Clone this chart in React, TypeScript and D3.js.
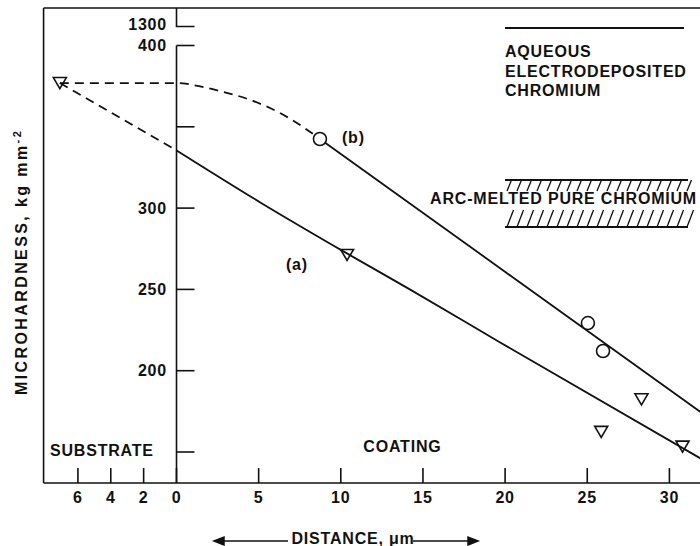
import React from 'react';
import * as d3 from 'd3';

const W = 700;
const H = 546;
const FONT = "'Liberation Sans', Arial, Helvetica, sans-serif";

// axis ticks
const xCoatTicks = [0, 5, 10, 15, 20, 25, 30];
const xSubTicks = [-2, -4, -6];
const yTicks = [150, 200, 250, 300, 350, 400];
const yTickLabels = ['', '200', '250', '300', '', '400'];
const yBreakLabel = '1300';

// curve (a): solid part in the coating
const curveAX = [0, 5.1, 10.4, 14.2, 19.7, 31.9];
const curveAY = [335.5, 303.5, 272, 250, 217.4, 146];
// curve (a): dashed part into the substrate
const dashAX = [-7.1, 0];
const dashAY = [376.9, 335.5];
// curve (b): dashed part
const dashBX = [-7.1, 0, 0.4, 1.0, 2.65, 4.66, 6.3, 7.7, 8.73];
const dashBY = [376.9, 376.9, 376.7, 375.7, 372.0, 365.9, 358.5, 349.9, 342.5];
// curve (b): solid part
const curveBX = [8.73, 31.9];
const curveBY = [342.5, 174.6];
// measured points
const triX = [-7.1, 10.38, 25.85, 28.3, 30.8];
const triY = [376.9, 271.2, 162.4, 182.4, 153.3];
const circX = [8.73, 25.04, 25.96];
const circY = [342.5, 229.3, 212.1];

const legendLines = ['AQUEOUS', 'ELECTRODEPOSITED', 'CHROMIUM'];
const legendHatch = 'ARC-MELTED PURE CHROMIUM';

const xMin = -8.09;
const xMax = 31.86;
const yMin = 130.9;

export default function App() {
  const x = d3.scaleLinear().domain([0, 30]).range([176.5, 669.4]);
  const y = d3.scaleLinear().domain([150, 400]).range([452, 45.5]);
  const line = d3
    .line<[number, number]>()
    .x((d) => x(d[0]))
    .y((d) => y(d[1]))
    .curve(d3.curveMonotoneX);
  const zip = (a: number[], b: number[]) => a.map((v, i) => [v, b[i]] as [number, number]);

  const left = x(xMin);
  const bottom = y(yMin);
  const top = 8;
  const ax = x(0);
  const breakY = 26.5;

  const txt = { fontFamily: FONT, fontWeight: 700, fontSize: 16, letterSpacing: 0.8, fill: '#111' } as const;

  // hatch band
  const hx0 = 505, hx1 = 688, hy0 = 180, hy1 = 227;
  const hatch: JSX.Element[] = [];
  for (let hx = hx0 + 2; hx < hx1; hx += 10) {
    hatch.push(<line key={'u' + hx} x1={hx} y1={191} x2={hx + 4.5} y2={hy0} />);
    hatch.push(<line key={'l' + hx} x1={hx} y1={hy1} x2={hx + 6.5} y2={210} />);
  }

  return (
    <svg width={W} height={H} style={{ position: 'absolute', left: 0, top: 0, background: '#fff' }}>
      <rect x={0} y={0} width={W} height={H} fill="#fff" />
      {/* frame */}
      <g stroke="#111" strokeWidth={1.6} fill="none">
        <line x1={left} y1={top} x2={W} y2={top} />
        <line x1={left} y1={top} x2={left} y2={bottom} />
        <line x1={left} y1={bottom} x2={W} y2={bottom} />
        {/* y axis with break */}
        <polyline points={`${ax},${top} ${ax},${breakY} ${ax + 18},${breakY}`} />
        <line x1={ax} y1={y(400)} x2={ax} y2={bottom} />
        {yTicks.map((t) => (
          <line key={t} x1={ax} y1={y(t)} x2={ax + 18} y2={y(t)} />
        ))}
        {[...xSubTicks, ...xCoatTicks].map((t) => (
          <line key={t} x1={x(t)} y1={bottom} x2={x(t)} y2={bottom - 15} />
        ))}
      </g>
      {/* y tick labels */}
      <text {...txt} x={167} y={breakY + 3} textAnchor="end">{yBreakLabel}</text>
      {yTicks.map((t, i) =>
        yTickLabels[i] ? (
          <text key={t} {...txt} x={167} y={y(t) + 5.7} textAnchor="end">{yTickLabels[i]}</text>
        ) : null
      )}
      {/* x tick labels */}
      {[...xSubTicks, ...xCoatTicks].map((t) => (
        <text key={t} {...txt} x={x(t)} y={503} textAnchor="middle">{Math.abs(t)}</text>
      ))}
      {/* curves */}
      <g fill="none" stroke="#111" strokeWidth={1.8}>
        <path d={line(zip(curveAX, curveAY)) || ''} />
        <path d={line(zip(curveBX, curveBY)) || ''} />
        <path d={line(zip(dashAX, dashAY)) || ''} strokeDasharray="9,6" />
        <path d={line(zip(dashBX, dashBY)) || ''} strokeDasharray="9,6" />
      </g>
      {/* markers */}
      <g fill="none" stroke="#111" strokeWidth={1.6}>
        {triX.map((v, i) => {
          const cx = x(v), cy = y(triY[i]);
          return <path key={i} d={`M${cx - 6.5},${cy - 5.5}L${cx + 6.5},${cy - 5.5}L${cx},${cy + 5.5}Z`} />;
        })}
        {circX.map((v, i) => (
          <circle key={i} cx={x(v)} cy={y(circY[i])} r={6.5} fill="#fff" />
        ))}
      </g>
      {/* curve labels */}
      <text {...txt} x={x(10.07)} y={y(340.3)}>(b)</text>
      <text {...txt} x={x(6.66)} y={y(261.9)}>(a)</text>
      <text {...txt} x={x(-7.7)} y={456}>SUBSTRATE</text>
      <text {...txt} x={x(11.37)} y={452}>COATING</text>
      {/* legend */}
      <line x1={505} y1={28} x2={684} y2={28} stroke="#111" strokeWidth={1.8} />
      {legendLines.map((s, i) => (
        <text key={s} {...txt} x={505} y={57 + i * 19.5}>{s}</text>
      ))}
      <g stroke="#111" strokeWidth={1.3}>
        <line x1={hx0} y1={hy0} x2={hx1} y2={hy0} strokeWidth={1.8} />
        <line x1={hx0} y1={hy1} x2={hx1} y2={hy1} strokeWidth={1.8} />
        {hatch}
      </g>
      <text {...txt} x={697} y={204} textAnchor="end">{legendHatch}</text>
      {/* y title */}
      <text {...txt} letterSpacing={2.4} transform="translate(27,395) rotate(-90)">
        MICROHARDNESS, kg mm<tspan dy={-6} fontSize={11}>-2</tspan>
      </text>
      {/* x title with arrows */}
      <g stroke="#111" strokeWidth={1.5} fill="#111">
        <line x1={222} y1={541} x2={288} y2={541} />
        <path d="M214,541 L224,537 L224,545 Z" />
        <line x1={413} y1={541} x2={470} y2={541} />
        <path d="M478,541 L468,537 L468,545 Z" />
      </g>
      <text {...txt} x={291.5} y={544}>DISTANCE, μm</text>
    </svg>
  );
}
